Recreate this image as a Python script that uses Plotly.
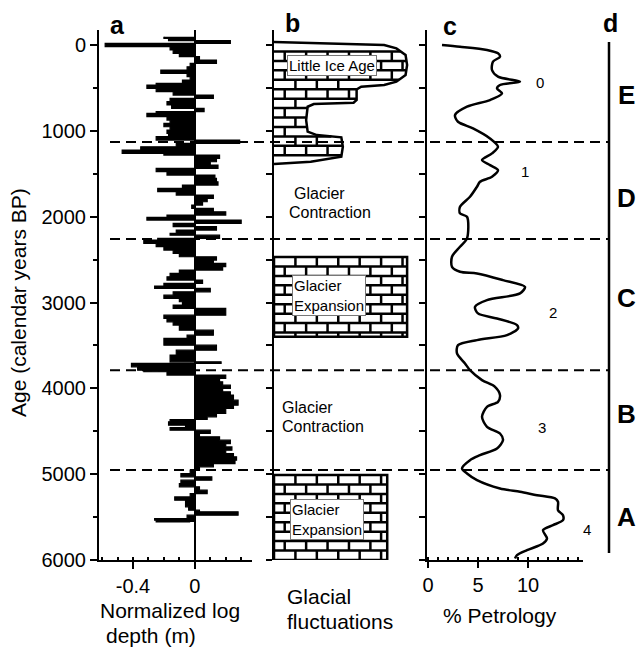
import numpy as np
import plotly.graph_objects as go

# ---------------- data ----------------
# Panel a: normalized log depth (m) vs age (cal yr BP)
log_age = [-97, -78, -51, -19, 19, 58, 97, 136, 175, 214, 253, 291, 330, 369, 408, 447, 466, 505,
           544, 583, 622, 660, 699, 738, 777, 796, 835, 874, 913, 952, 991, 1030, 1068, 1107,
           1146, 1185, 1224, 1263, 1282, 1321, 1360, 1399, 1437, 1476, 1515, 1554, 1593, 1632,
           1671, 1709, 1748, 1787, 1826, 1865, 1904, 1943, 1981, 2009, 2040, 2078, 2117, 2156,
           2195, 2215, 2253, 2273, 2312, 2350, 2389, 2428, 2467, 2506, 2545, 2583, 2622, 2661,
           2700, 2739, 2778, 2809, 2836, 2875, 2914, 2953, 2991, 3030, 3069, 3108, 3147, 3186,
           3225, 3263, 3322, 3380, 3419, 3497, 3555, 3613, 3652, 3691, 3710, 3749, 3788, 3807,
           3846, 3885, 3924, 3963, 4002, 4040, 4079, 4138, 4196, 4235, 4293, 4332, 4363, 4390,
           4429, 4456, 4487, 4526, 4565, 4604, 4643, 4682, 4720, 4759, 4798, 4837, 4876, 4915,
           4954, 4992, 5031, 5070, 5109, 5148, 5187, 5226, 5265, 5303, 5342, 5381, 5420, 5439,
           5478, 5517, 5536, 5556]
log_depth = [-0.20, -0.17, 0.23, -0.58, -0.16, -0.14, -0.10, 0.03, 0.14, -0.03, -0.05, -0.22,
             -0.05, -0.03, -0.08, -0.25, -0.31, -0.25, -0.14, 0.12, -0.16, -0.18, -0.15, 0.06,
             -0.25, -0.31, -0.18, -0.16, -0.20, -0.16, -0.18, -0.17, -0.25, 0.29, -0.12, -0.35,
             -0.47, -0.20, 0.16, 0.14, 0.10, 0.15, -0.25, -0.18, 0.13, 0.14, 0.15, -0.08, -0.24,
             -0.12, 0.12, 0.08, 0.05, -0.02, 0.12, 0.20, -0.18, -0.31, 0.30, -0.14, 0.14, -0.12,
             -0.16, 0.16, -0.24, -0.33, -0.25, -0.20, -0.14, -0.10, 0.14, 0.12, 0.20, 0.18, -0.10,
             -0.16, -0.18, 0.05, -0.20, -0.26, 0.10, -0.14, -0.20, -0.10, -0.08, -0.14, 0.20, 0.20,
             -0.20, -0.18, -0.14, -0.10, 0.12, -0.05, -0.20, 0.14, -0.12, -0.16, -0.16, 0.17, -0.41,
             -0.37, -0.33, -0.18, 0.20, 0.16, 0.18, 0.23, 0.18, 0.23, 0.25, 0.28, 0.25, 0.20, 0.14,
             0.08, -0.16, -0.17, -0.06, -0.16, 0.10, 0.03, 0.16, 0.23, 0.20, 0.24, 0.20, 0.25, 0.27,
             0.26, 0.12, 0.03, -0.03, -0.09, 0.11, -0.09, -0.10, 0.03, 0.08, -0.03, -0.13, -0.06,
             -0.06, -0.04, 0.03, 0.28, -0.05, -0.26, -0.25, -0.03]
depth_ticks = [-0.4, 0]
depth_tick_text = ["-0.4", "0"]

# Panel b: glacial fluctuations (relative extent, 0-100)
lia_age = [-35, 0, 39, 117, 233, 350, 427, 466, 486, 517, 641, 672, 688, 719, 874, 1010,
           1049, 1076, 1185, 1301, 1360, 1387]
lia_extent = [0, 72, 80, 86, 87, 86, 80, 72, 57, 54, 54, 52, 26, 22, 21, 22, 28, 44, 45, 44, 24, 0]
expansion_top = [2470, 5010]
expansion_bottom = [3400, 6000]
expansion_extent = [87, 74]

# Panel c: % petrology
petro_age = [0, 20, 58, 97, 136, 194, 291, 369, 427, 466, 505, 563, 641, 719, 816, 894, 971,
             1088, 1185, 1263, 1340, 1399, 1457, 1535, 1593, 1651, 1768, 1885, 1962, 2001, 2253,
             2351, 2467, 2584, 2642, 2661, 2739, 2817, 2894, 2972, 3050, 3127, 3186, 3263, 3302,
             3380, 3438, 3497, 3593, 3710, 3788, 3904, 3982, 4079, 4157, 4215, 4332, 4448, 4526,
             4604, 4700, 4779, 4837, 4934, 4992, 5070, 5167, 5206, 5245, 5283, 5322, 5420, 5478,
             5536, 5594, 5653, 5750, 5808, 5886, 5944, 5983]
petro_pct = [1.4, 3.2, 5.9, 7.0, 7.2, 6.5, 6.4, 7.0, 9.2, 7.2, 6.9, 7.4, 6.2, 3.9, 2.7, 3.0, 4.5,
             6.2, 7.0, 6.4, 5.4, 6.2, 7.0, 6.4, 5.2, 4.9, 4.2, 3.2, 3.2, 3.9, 3.9, 3.2, 2.4, 2.4,
             3.2, 4.9, 7.5, 9.7, 9.2, 5.9, 4.7, 5.0, 6.9, 8.9, 9.0, 7.9, 4.9, 3.0, 2.9, 3.7, 4.2,
             5.4, 6.7, 7.2, 7.0, 5.9, 5.4, 5.9, 7.2, 7.5, 6.9, 5.2, 4.2, 3.4, 3.9, 4.9, 7.2, 9.2,
             10.9, 12.7, 13.0, 13.0, 13.5, 13.5, 12.5, 11.5, 11.9, 11.5, 9.9, 8.9, 8.7]
petro_labels = ["0", "1", "2", "3", "4"]
petro_label_age = [431, 1479, 3122, 4462, 5650]
petro_label_pct = [11.2, 9.7, 12.5, 11.4, 15.9]

# Panel d: zones
zone_boundaries = [1130, 2260, 3790, 4950]
zone_labels = ["E", "D", "C", "B", "A"]
zone_label_age = [582, 1782, 2947, 4299, 5499]

# ---------------- layout helpers ----------------
W, H = 639, 648
def px(x):
    return x / W
def py(y):
    return 1 - y / H

FONT = "Arial, Liberation Sans, sans-serif"
BRICK_ROW = 110   # years per brick course
BRICK_W = 14      # brick length in extent units

YRANGE = [6000, -175]
YDOM = [py(560), py(30)]

fig = go.Figure()

# Panel a
fig.add_trace(go.Scatter(x=log_depth, y=log_age, mode="lines", fill="tozerox",
                         fillcolor="black", line=dict(color="black", width=1.2, shape="vh"),
                         xaxis="x", yaxis="y", hoverinfo="skip"))

# Panel b: brick polygons
def brick_lines(top, bottom, extent_at):
    xs, ys = [], []
    bounds = list(np.arange(top, bottom, BRICK_ROW)) + [bottom]
    for k in range(len(bounds) - 1):
        y0, y1 = bounds[k], bounds[k + 1]
        if k > 0:
            xs += [0, extent_at(y0), None]
            ys += [y0, y0, None]
        lim = min(extent_at(y0), extent_at(y1), extent_at((y0 + y1) / 2)) - 2
        x = BRICK_W if k % 2 == 0 else BRICK_W / 2
        while x < lim:
            xs += [x, x, None]
            ys += [y0, y1, None]
            x += BRICK_W
    return xs, ys

def lia_at(a):
    return float(np.interp(a, lia_age, lia_extent))

fig.add_trace(go.Scatter(x=lia_extent, y=lia_age, mode="lines", fill="toself",
                         fillcolor="white", line=dict(color="black", width=2.5),
                         xaxis="x2", yaxis="y2", hoverinfo="skip"))
bx, by = brick_lines(lia_age[0], lia_age[-1], lia_at)
fig.add_trace(go.Scatter(x=bx, y=by, mode="lines", line=dict(color="black", width=2.5),
                         xaxis="x2", yaxis="y2", hoverinfo="skip"))

for t, b, e in zip(expansion_top, expansion_bottom, expansion_extent):
    fig.add_trace(go.Scatter(x=[0, e, e, 0, 0], y=[t, t, b, b, t], mode="lines", fill="toself",
                             fillcolor="white", line=dict(color="black", width=2.5),
                             xaxis="x2", yaxis="y2", hoverinfo="skip"))
    bx, by = brick_lines(t, b, lambda a, e=e: e)
    fig.add_trace(go.Scatter(x=bx, y=by, mode="lines", line=dict(color="black", width=2.5),
                             xaxis="x2", yaxis="y2", hoverinfo="skip"))

# Panel c
fig.add_trace(go.Scatter(x=petro_pct, y=petro_age, mode="lines",
                         line=dict(color="black", width=2.5, shape="spline", smoothing=0.8),
                         xaxis="x3", yaxis="y3", hoverinfo="skip"))

tickfont = dict(family=FONT, size=20, color="black")
common_y = dict(range=YRANGE, domain=YDOM, showgrid=False, zeroline=False, showline=True,
                linecolor="black", linewidth=2, ticks="outside", tickcolor="black",
                tickwidth=2, automargin=False)

fig.update_layout(
    width=W, height=H, margin=dict(l=0, r=0, t=0, b=0),
    paper_bgcolor="white", plot_bgcolor="rgba(0,0,0,0)", showlegend=False,
    font=dict(family=FONT, color="black"),
    xaxis=dict(domain=[px(99), px(252)], range=[-0.62, 0.37], anchor="y",
               tickvals=depth_ticks, ticktext=depth_tick_text, showgrid=False,
               zeroline=True, zerolinecolor="black", zerolinewidth=2,
               showline=True, linecolor="black", linewidth=2, ticks="outside",
               ticklen=7, tickwidth=2, tickcolor="black", tickfont=tickfont,
               minor=dict(dtick=0.1, tick0=0, ticks="inside", ticklen=3, tickcolor="black"),
               automargin=False),
    yaxis=dict(**common_y, anchor="x", tick0=0, dtick=1000, ticklen=7,
               tickfont=tickfont, minor=dict(dtick=500, ticks="outside", ticklen=4,
                                             tickcolor="black")),
    xaxis2=dict(domain=[px(274), px(427)], range=[0, 100], anchor="y2", visible=False),
    yaxis2=dict(**common_y, anchor="x2", tick0=0, dtick=500, ticklen=6,
                showticklabels=False),
    xaxis3=dict(domain=[px(427), px(583)], range=[-0.1, 15.5], anchor="y3",
                tickvals=[0, 5, 10], showgrid=False, zeroline=False,
                showline=True, linecolor="black", linewidth=2, ticks="outside",
                ticklen=6, tickwidth=2, tickcolor="black", tickfont=tickfont,
                minor=dict(dtick=1, tick0=0, ticks="inside", ticklen=3, tickcolor="black"),
                automargin=False),
    yaxis3=dict(**common_y, anchor="x3", tick0=0, dtick=500, ticklen=6,
                showticklabels=False),
)

# zone boundaries (dashed) and panel d line
for a in zone_boundaries:
    fig.add_shape(type="line", xref="paper", yref="y", x0=px(110), x1=px(609), y0=a, y1=a,
                  line=dict(color="black", width=2, dash="10px,6px"), layer="above")
fig.add_shape(type="line", xref="paper", yref="y", x0=px(609), x1=px(609), y0=-35, y1=5918,
              line=dict(color="black", width=2.5), layer="above")

ann = []
def text(x, y, s, size=20, bold=False, xanchor="center", yanchor="middle", **kw):
    d = dict(x=x, y=y, text=f"<b>{s}</b>" if bold else s, showarrow=False,
             font=dict(family=FONT, size=size, color="black"),
             xanchor=xanchor, yanchor=yanchor)
    d.setdefault("xref", "paper")
    d.setdefault("yref", "paper")
    d.update(kw)
    ann.append(d)

# panel letters
for s, x, y in [("a", 117, 25), ("b", 292, 23), ("c", 450, 26), ("d", 610, 23)]:
    text(px(x), py(y), s, size=25, bold=True)

# y title
text(px(18), py(303), "Age (calendar years BP)", size=21, textangle=-90)

# bottom titles
text(px(98), py(610), "Normalized log", size=21, xanchor="left")
text(px(104), py(635), "depth (m)", size=21, xanchor="left")
text(px(285), py(596), "Glacial", size=21, xanchor="left")
text(px(285), py(621), "fluctuations", size=21, xanchor="left")
text(px(500), py(615), "% Petrology", size=21)

# zone letters
for s, a in zip(zone_labels, zone_label_age):
    text(px(626), a, s, size=26, bold=True, yref="y")

# petrology zone numbers
for s, a, v in zip(petro_labels, petro_label_age, petro_label_pct):
    text(px(428 + v * 10), a, s, size=15, yref="y")

# panel b labels
text(38, 233, "Little Ice Age", size=15, xref="x2", yref="y2", bgcolor="white",
     bordercolor="#777", borderwidth=1, borderpad=1)
text(12, 2681, "Glacier<br>Expansion", size=15, xref="x2", yref="y2", xanchor="left",
     yanchor="top", align="left", bgcolor="white", bordercolor="#777", borderwidth=1,
     borderpad=1)
text(10.5, 5290, "Glacier<br>Expansion", size=15, xref="x2", yref="y2", xanchor="left",
     yanchor="top", align="left", bgcolor="white", bordercolor="#777", borderwidth=1,
     borderpad=1)
text(11.8, 1725, "Glacier", size=16, xref="x2", yref="y2", xanchor="left")
text(8.5, 1946, "Contraction", size=16, xref="x2", yref="y2", xanchor="left")
text(4, 4219, "Glacier", size=16, xref="x2", yref="y2", xanchor="left")
text(4, 4441, "Contraction", size=16, xref="x2", yref="y2", xanchor="left")

fig.update_layout(annotations=ann)
fig.write_html("out.html", config={"displayModeBar": False},
               post_script="document.body.style.margin='0px';"
                           "document.body.style.padding='0px';"
                           "document.body.style.overflow='hidden';")
